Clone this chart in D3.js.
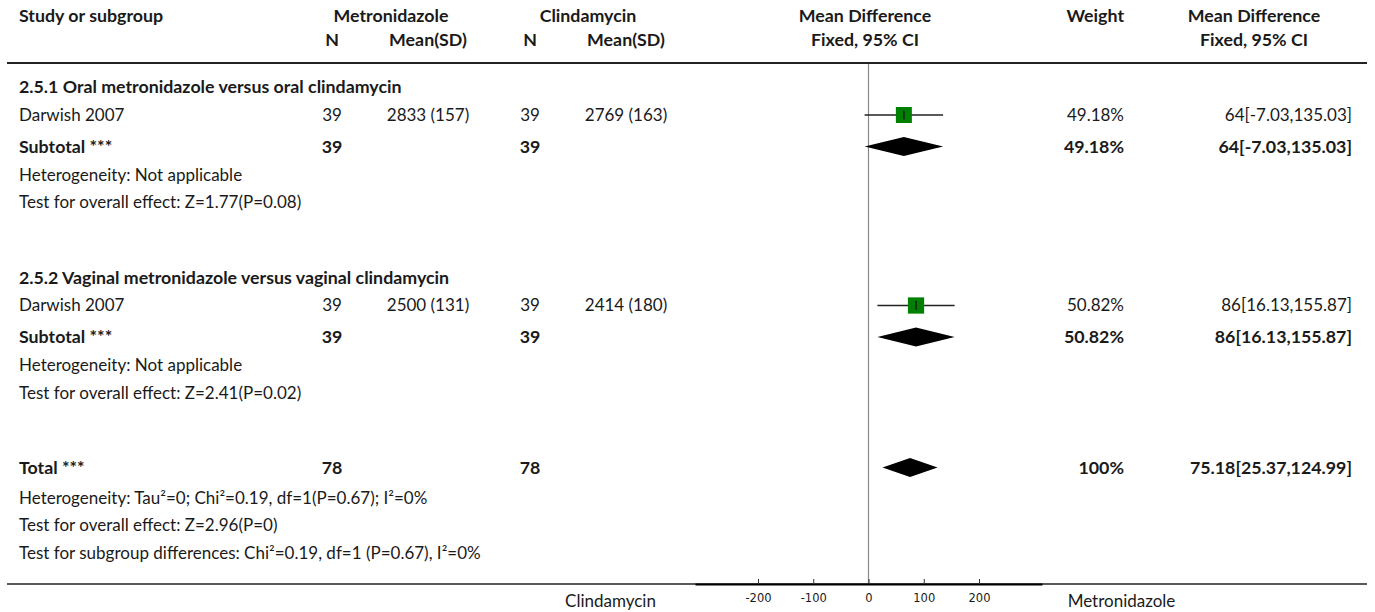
<!DOCTYPE html>
<html>
<head>
<meta charset="utf-8">
<script src="https://cdn.jsdelivr.net/npm/d3@7"></script>
<style>
  html, body { margin: 0; padding: 0; background: #fff; }
  svg { display: block; }
  text { font-family: Lato, "Noto Sans", sans-serif; fill: #1a1a1a; }
  .tick text { font-family: "DejaVu Sans", sans-serif; }
</style>
</head>
<body>
<svg id="chart" width="1375" height="612"></svg>
<script>
// ---------------- data ----------------
const sections = [
  "2.5.1 Oral metronidazole versus oral clindamycin",
  "2.5.2 Vaginal metronidazole versus vaginal clindamycin"
];
const studies = ["Darwish 2007", "Darwish 2007"];
const metN = [39, 39];
const metMean = [2833, 2500];
const metSD = [157, 131];
const cliN = [39, 39];
const cliMean = [2769, 2414];
const cliSD = [163, 180];
const md = [64, 86];
const ciLo = [-7.03, 16.13];
const ciHi = [135.03, 155.87];
const weights = [49.18, 50.82];
const hetTexts = ["Heterogeneity: Not applicable", "Heterogeneity: Not applicable"];
const effectTexts = ["Test for overall effect: Z=1.77(P=0.08)", "Test for overall effect: Z=2.41(P=0.02)"];
const totalN = [78, 78];
const totalMD = [75.18, 25.37, 124.99];
const totalWeight = 100;
const totalTexts = [
  "Heterogeneity: Tau\u00B2=0; Chi\u00B2=0.19, df=1(P=0.67); I\u00B2=0%",
  "Test for overall effect: Z=2.96(P=0)",
  "Test for subgroup differences: Chi\u00B2=0.19, df=1 (P=0.67), I\u00B2=0%"
];
const axisTicks = [-200, -100, 0, 100, 200];
const xDomain = [-314, 314];
const sideLabels = ["Clindamycin", "Metronidazole"];
const headerTop = ["Study or subgroup", "Metronidazole", "Clindamycin", "Mean Difference", "Weight", "Mean Difference"];
const headerSub = ["N", "Mean(SD)", "N", "Mean(SD)", "Fixed, 95% CI", "Fixed, 95% CI"];

// ---------------- layout ----------------
const svg = d3.select("#chart");
const FS = 17, FSB = 17.8;
const col = {
  study: 19, metN: 332, metMean: 428, metHead: 391,
  cliN: 530, cliMean: 626, cliHead: 588,
  mdHead: 865, weight: 1124, rmd: 1352, rmdHead: 1254
};
const lineY = 63, lineX0 = 7, lineX1 = 1367;
const x = d3.scaleLinear().domain(xDomain).range([695, 1042]);
const sq = d3.scaleSqrt().domain([0, 100]).range([0, 22.8]);
const fmt2 = d3.format(".2f");
const ci = (m, l, h) => `${+m}[${l},${h}]`;

// rows
const rows = [];
sections.forEach((s, i) => {
  rows.push({kind: i === 0 ? "firstSection" : "section", text: s, i});
  rows.push({kind: "study", i});
  rows.push({kind: "subtotal", i});
  rows.push({kind: "het", text: hetTexts[i]});
  rows.push({kind: "test", text: effectTexts[i]});
});
rows.push({kind: "total"});
rows.push({kind: "hetTotal", text: totalTexts[0]});
rows.push({kind: "test", text: totalTexts[1]});
rows.push({kind: "test", text: totalTexts[2]});
const gaps = {firstSection: 24, section: 75, study: 28, subtotal: 31.5, het: 28.5,
              test: 27.5, total: 74.5, hetTotal: 30.5};
let yy = lineY;
rows.forEach(r => { yy += gaps[r.kind]; r.y = yy; });
const bottomY = yy + 31;

function txt(xp, yp, s, anchor, bold) {
  return svg.append("text").attr("x", xp).attr("y", yp).attr("dy", "0.35em")
    .attr("text-anchor", anchor || "start")
    .style("font-weight", bold ? 700 : 400)
    .style("font-size", (bold ? FSB : FS) + "px").text(s);
}

// headers
const hy1 = 16, hy2 = 40;
txt(col.study, hy1, headerTop[0], "start", true);
txt(col.metHead, hy1, headerTop[1], "middle", true);
txt(col.cliHead, hy1, headerTop[2], "middle", true);
txt(col.mdHead, hy1, headerTop[3], "middle", true);
txt(col.weight, hy1, headerTop[4], "end", true);
txt(col.rmdHead, hy1, headerTop[5], "middle", true);
txt(col.metN, hy2, headerSub[0], "middle", true);
txt(col.metMean, hy2, headerSub[1], "middle", true);
txt(col.cliN, hy2, headerSub[2], "middle", true);
txt(col.cliMean, hy2, headerSub[3], "middle", true);
txt(col.mdHead, hy2, headerSub[4], "middle", true);
txt(col.rmdHead, hy2, headerSub[5], "middle", true);

// zero line
svg.append("line").attr("x1", x(0)).attr("x2", x(0))
  .attr("y1", lineY).attr("y2", bottomY)
  .attr("stroke", "#8a8a8a").attr("stroke-width", 1.2);

// header rule & bottom rule
svg.append("line").attr("x1", lineX0).attr("x2", lineX1).attr("y1", lineY).attr("y2", lineY)
  .attr("stroke", "#222").attr("stroke-width", 2);
svg.append("line").attr("x1", lineX0).attr("x2", lineX1).attr("y1", bottomY).attr("y2", bottomY)
  .attr("stroke", "#222").attr("stroke-width", 1.5);

function diamond(m, l, h, y) {
  const hh = 9.5;
  svg.append("path")
    .attr("d", `M${x(l)},${y} L${x(m)},${y - hh} L${x(h)},${y} L${x(m)},${y + hh} Z`)
    .attr("fill", "#000");
}

rows.forEach(r => {
  const i = r.i;
  switch (r.kind) {
    case "firstSection":
    case "section":
      txt(col.study, r.y, r.text, "start", true); break;
    case "study": {
      txt(col.study, r.y, studies[i]);
      txt(col.metN, r.y, metN[i], "middle");
      txt(col.metMean, r.y, `${metMean[i]} (${metSD[i]})`, "middle");
      txt(col.cliN, r.y, cliN[i], "middle");
      txt(col.cliMean, r.y, `${cliMean[i]} (${cliSD[i]})`, "middle");
      txt(col.weight, r.y, fmt2(weights[i]) + "%", "end");
      txt(col.rmd, r.y, ci(md[i], ciLo[i], ciHi[i]), "end");
      svg.append("line").attr("x1", x(ciLo[i])).attr("x2", x(ciHi[i]))
        .attr("y1", r.y).attr("y2", r.y).attr("stroke", "#222").attr("stroke-width", 1.5);
      const s = sq(weights[i]);
      svg.append("rect").attr("x", x(md[i]) - s / 2).attr("y", r.y - s / 2)
        .attr("width", s).attr("height", s).attr("fill", "#008000");
      svg.append("line").attr("x1", x(md[i])).attr("x2", x(md[i]))
        .attr("y1", r.y - 4.5).attr("y2", r.y + 4.5).attr("stroke", "#1a1a1a").attr("stroke-width", 1.5);
      break;
    }
    case "subtotal":
      txt(col.study, r.y, "Subtotal ***", "start", true);
      txt(col.metN, r.y, metN[i], "middle", true);
      txt(col.cliN, r.y, cliN[i], "middle", true);
      txt(col.weight, r.y, fmt2(weights[i]) + "%", "end", true);
      txt(col.rmd, r.y, ci(md[i], ciLo[i], ciHi[i]), "end", true);
      diamond(md[i], ciLo[i], ciHi[i], r.y);
      break;
    case "total":
      txt(col.study, r.y, "Total ***", "start", true);
      txt(col.metN, r.y, totalN[0], "middle", true);
      txt(col.cliN, r.y, totalN[1], "middle", true);
      txt(col.weight, r.y, totalWeight + "%", "end", true);
      txt(col.rmd, r.y, ci(totalMD[0], totalMD[1], totalMD[2]), "end", true);
      diamond(totalMD[0], totalMD[1], totalMD[2], r.y);
      break;
    default:
      txt(col.study, r.y, r.text);
  }
});

// axis
const axis = d3.axisBottom(x).tickValues(axisTicks).tickFormat(d => String(d))
  .tickSizeInner(-5).tickSizeOuter(0).tickPadding(10);
const ag = svg.append("g").attr("transform", `translate(0,${bottomY})`).call(axis);
ag.select(".domain").attr("stroke", "#000").attr("stroke-width", 2);
ag.selectAll(".tick line").attr("stroke", "#333");
ag.selectAll(".tick text").style("font-size", "11.5px").attr("fill", "#222");

// side labels
txt(x(0) - 258, bottomY + 17, sideLabels[0], "middle");
txt(x(0) + 253, bottomY + 17, sideLabels[1], "middle");
</script>
</body>
</html>
